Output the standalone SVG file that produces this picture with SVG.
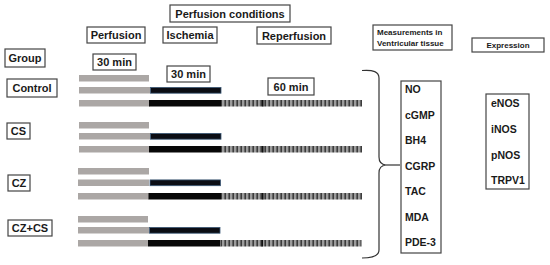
<svg xmlns="http://www.w3.org/2000/svg" width="550" height="265" viewBox="0 0 550 265">
<style>
.box{fill:#fff;stroke:#444;stroke-width:1.2}
.t{font-family:"Liberation Sans",Arial,sans-serif;font-weight:bold;fill:#1a1a1a}
.c{text-anchor:middle}
.l{font-size:11px}
.s{font-size:8px}
.m{font-size:10.5px}
.gray{fill:#aba7a5}
.isc{fill:#0b0d14;stroke:#3d5a78;stroke-width:0.8}
.blk{fill:#080808}
.rep{fill:url(#rp)}
.br{fill:none;stroke:#333;stroke-width:1.2}
</style>
<defs>
<pattern id="rp" x="221" y="0" width="4" height="10" patternUnits="userSpaceOnUse">
<rect x="0" y="0" width="4" height="10" fill="#3c3c3c"/>
<rect x="1" y="0" width="2.4" height="10" fill="#9c9c9c"/>
</pattern>
</defs>
<rect width="550" height="265" fill="#fff"/>

<g id="title"><rect class="box" x="170" y="5" width="120" height="17"/><text class="t l c" x="230" y="18">Perfusion conditions</text></g>
<g id="perfusion"><rect class="box" x="87" y="27" width="58" height="16"/><text class="t l c" x="116" y="39">Perfusion</text></g>
<g id="ischemia"><rect class="box" x="163" y="27" width="54" height="16"/><text class="t l c" x="190" y="39">Ischemia</text></g>
<g id="reperfusion"><rect class="box" x="257" y="27" width="74" height="17"/><text class="t l c" x="294" y="40">Reperfusion</text></g>
<g id="measurements"><rect class="box" x="373" y="25" width="79" height="25"/><text class="t s" x="377" y="35">Measurements in</text><text class="t s" x="377" y="46">Ventricular tissue</text></g>
<g id="expression"><rect class="box" x="472" y="38" width="72" height="14"/><text class="t s c" x="508" y="48">Expression</text></g>
<g id="group"><rect class="box" x="5" y="49" width="40" height="18"/><text class="t l c" x="25" y="62">Group</text></g>
<g id="t30a"><rect class="box" x="93" y="54" width="43" height="16"/><text class="t l c" x="114.5" y="66">30 min</text></g>
<g id="t30b"><rect class="box" x="167" y="66" width="43" height="16"/><text class="t l c" x="188.5" y="78">30 min</text></g>
<g id="t60"><rect class="box" x="268" y="78" width="46" height="17"/><text class="t l c" x="291" y="91">60 min</text></g>

<g id="control"><rect class="box" x="7" y="79" width="50" height="18"/><text class="t l c" x="32" y="92">Control</text></g>
<g id="cs"><rect class="box" x="7" y="123" width="23" height="16"/><text class="t l c" x="18.5" y="135">CS</text></g>
<g id="cz"><rect class="box" x="8" y="175" width="22" height="16"/><text class="t l c" x="19" y="187">CZ</text></g>
<g id="czcs"><rect class="box" x="8" y="220" width="44" height="16"/><text class="t l c" x="30" y="232">CZ+CS</text></g>

<g id="bars">
<rect class="gray" x="79" y="75" width="70" height="6.5"/>
<rect class="gray" x="79" y="87" width="71" height="6.5"/><rect class="isc" x="150.5" y="87.4" width="70.5" height="5.8"/>
<rect class="gray" x="79" y="100" width="71" height="6.5"/><rect class="blk" x="149" y="100" width="72" height="6.5"/><rect class="rep" x="221" y="100" width="141" height="6.5"/><rect x="262" y="100" width="1.5" height="6.5" fill="#111"/>

<rect class="gray" x="79" y="122" width="70" height="6.5"/>
<rect class="gray" x="79" y="133" width="71" height="6.5"/><rect class="isc" x="150.5" y="133.4" width="70.5" height="5.8"/>
<rect class="gray" x="79" y="146" width="70" height="6.5"/><rect class="blk" x="149" y="146" width="72" height="6.5"/><rect class="rep" x="221" y="146" width="141" height="6.5"/><rect x="262" y="146" width="1.5" height="6.5" fill="#111"/>

<rect class="gray" x="78" y="168" width="71" height="6.5"/>
<rect class="gray" x="78" y="179.5" width="71" height="6.5"/><rect class="isc" x="150" y="179.9" width="70.5" height="5.8"/>
<rect class="gray" x="78" y="193" width="71" height="6.5"/><rect class="blk" x="148.5" y="193" width="72.5" height="6.5"/><rect class="rep" x="221" y="193" width="141" height="6.5"/><rect x="262" y="193" width="1.5" height="6.5" fill="#111"/>

<rect class="gray" x="78" y="216" width="70" height="6.5"/>
<rect class="gray" x="78" y="227" width="71" height="6.5"/><rect class="isc" x="149.5" y="227.4" width="70.5" height="5.8"/>
<rect class="gray" x="78" y="240" width="70" height="6.5"/><rect class="blk" x="148" y="240" width="72.5" height="6.5"/><rect class="rep" x="220.5" y="240" width="141" height="6.5"/><rect x="261.5" y="240" width="1.5" height="6.5" fill="#111"/>
</g>

<g id="connectors">
<path class="br" d="M362,70.5 Q379,69 379,78 V157 Q379,164.5 386,165 Q379,165.5 379,173 V250 Q379,258 362,258"/>
<path class="br" d="M386,165 H400"/>
</g>

<g id="measure-list"><rect class="box" x="401" y="81" width="40" height="172"/>
<text class="t m" x="405" y="93">NO</text>
<text class="t m" x="405" y="118.5">cGMP</text>
<text class="t m" x="405" y="144">BH4</text>
<text class="t m" x="405" y="169.5">CGRP</text>
<text class="t m" x="405" y="195">TAC</text>
<text class="t m" x="405" y="220.5">MDA</text>
<text class="t m" x="405" y="246">PDE-3</text>
</g>
<g id="expr-list"><rect class="box" x="486" y="94" width="43" height="95"/>
<text class="t m" x="491" y="107">eNOS</text>
<text class="t m" x="491" y="133">iNOS</text>
<text class="t m" x="491" y="159">pNOS</text>
<text class="t m" x="491" y="184">TRPV1</text>
</g>
</svg>
